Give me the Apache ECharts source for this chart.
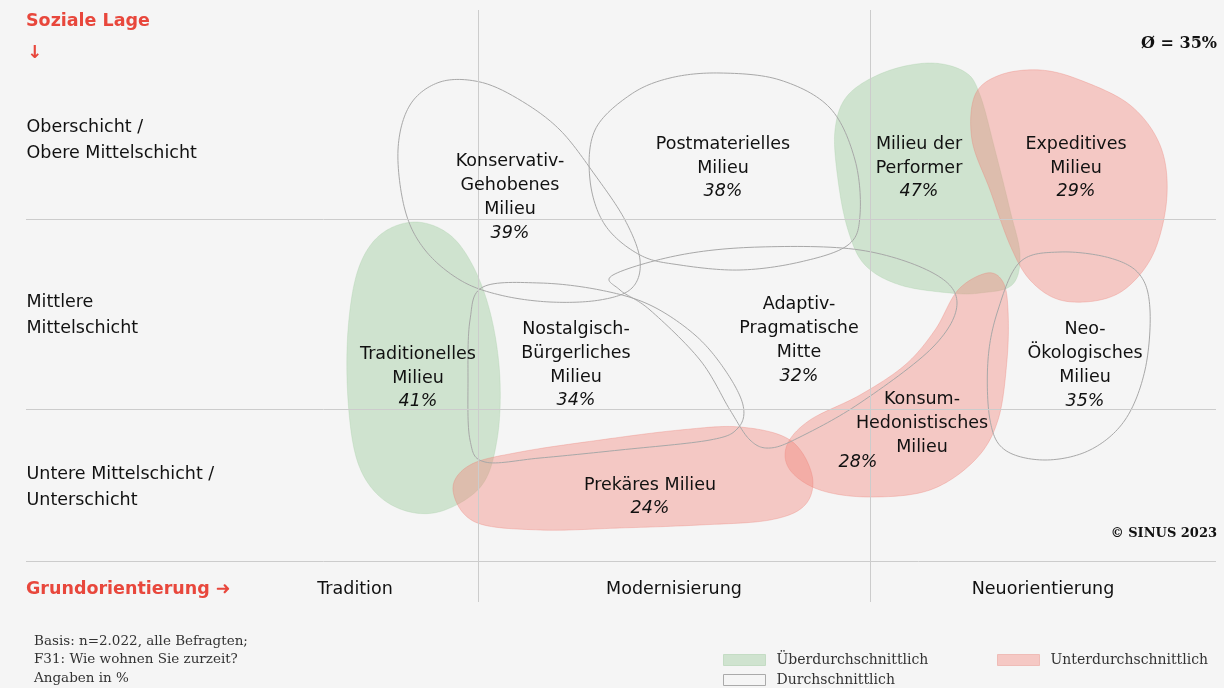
<!DOCTYPE html>
<html>
<head>
<meta charset="utf-8">
<script src="https://cdn.jsdelivr.net/npm/echarts@6/dist/echarts.min.js"></script>
<style>
  html, body { margin: 0; padding: 0; background: #f5f5f5; }
  #chart { width: 1224px; height: 688px; }
</style>
</head>
<body>
<div id="chart"></div>
<script>
// Sinus-Milieus 2023 – F31: Wie wohnen Sie zurzeit?  (Anteil je Milieu in %)
const milieus = [
  'Konservativ-\nGehobenes\nMilieu', 'Postmaterielles\nMilieu', 'Milieu der\nPerformer',
  'Expeditives\nMilieu', 'Traditionelles\nMilieu', 'Nostalgisch-\nBürgerliches\nMilieu',
  'Adaptiv-\nPragmatische\nMitte', 'Neo-\nÖkologisches\nMilieu', 'Konsum-\nHedonistisches\nMilieu',
  'Prekäres Milieu'
];
const shares = [39, 38, 47, 29, 41, 34, 32, 35, 28, 24];
const average = 35;
const levels = ['Überdurchschnittlich', 'Durchschnittlich', 'Unterdurchschnittlich'];
const levelOf = [1, 1, 0, 2, 0, 1, 1, 1, 2, 2];

const rows = ['Oberschicht /\nObere Mittelschicht', 'Mittlere\nMittelschicht', 'Untere Mittelschicht /\nUnterschicht'];
const columns = ['Tradition', 'Modernisierung', 'Neuorientierung'];
const notes = ['Basis: n=2.022, alle Befragten;', 'F31: Wie wohnen Sie zurzeit?', 'Angaben in %'];

// map geometry in axis units (x: Grundorientierung, y: soziale Lage)
const rowAt = [46.2, 28.7, 11.5];
const colAt = [32.9, 64.8, 101.7];
const vDividers = [45.2, 84.4];
const hDividers = [38.3, 19.3, 4.1];

const labelAt = [
  [48.4, 40.5], [69.7, 43.45], [89.3, 43.45], [105.0, 43.45], [39.2, 22.45],
  [55.0, 23.75], [77.3, 26.2], [105.9, 23.7], [89.6, 17.85], [62.4, 10.55]
];
const pctAt = [null, null, null, null, null, null, null, null, [83.2, 14.0], null];

const outlines = [
  [[37.2,45.2],[38.4,49.7],[41.4,52.0],[45.4,52.0],[49.4,50.2],[53.4,47.2],[56.9,42.7],[59.9,38.2],[61.4,34.2],[60.6,31.4],[57.4,30.2],[52.4,30.0],[47.4,30.7],[43.4,32.2],[39.9,35.2],[37.9,39.2]],
  [[69.4,52.9],[75.4,52.2],[80.4,49.4],[82.9,44.2],[83.4,38.7],[82.2,35.7],[77.4,34.0],[71.4,33.2],[65.4,33.7],[61.4,34.7],[57.9,37.7],[56.4,42.2],[56.9,47.2],[60.4,50.7],[64.4,52.4]],
  [[90.4,53.9],[93.9,53.0],[95.4,50.7],[96.9,45.2],[98.4,39.2],[99.4,34.7],[98.6,31.7],[95.4,30.9],[92.4,30.9],[87.4,31.7],[83.9,33.7],[82.2,37.2],[81.2,42.2],[80.9,47.2],[82.2,50.7],[85.9,53.0]],
  [[94.9,50.7],[97.4,52.7],[101.4,53.2],[105.4,52.2],[110.4,49.7],[113.4,45.7],[114.1,40.7],[112.9,35.2],[110.4,31.7],[107.4,30.2],[103.4,30.2],[100.4,32.2],[98.4,35.7],[96.4,41.2],[94.6,46.2]],
  [[38.9,38.0],[42.4,36.7],[44.9,33.2],[46.6,28.2],[47.4,22.2],[47.1,16.2],[45.6,11.7],[41.9,9.2],[38.4,9.0],[35.2,10.7],[33.1,14.2],[32.2,20.2],[32.2,27.2],[33.2,33.2],[35.4,36.7]],
  [[45.7,31.5],[51.4,31.9],[57.4,31.2],[62.4,29.7],[66.9,26.7],[69.9,23.2],[71.7,19.7],[71.2,17.4],[68.4,16.2],[59.4,15.2],[51.4,14.4],[45.9,14.0],[44.4,16.2],[44.2,22.2],[44.4,28.2]],
  [[58.7,32.7],[65.4,34.7],[73.4,35.5],[83.4,35.2],[90.7,32.9],[93.1,29.9],[90.7,25.5],[83.4,19.9],[77.4,16.5],[74.4,15.4],[72.4,16.2],[70.4,19.2],[67.4,24.2],[62.4,29.2],[59.4,31.2]],
  [[99.4,34.0],[103.4,35.0],[108.4,34.4],[111.4,32.7],[112.4,29.2],[111.9,23.2],[109.9,18.2],[106.4,15.2],[101.9,14.2],[97.9,15.2],[96.4,18.2],[96.2,24.2],[97.2,29.2]],
  [[96.1,32.9],[97.7,32.0],[98.2,29.2],[98.1,24.2],[97.2,18.2],[94.9,14.2],[90.4,11.2],[84.4,10.5],[79.4,11.2],[76.4,13.2],[76.1,15.7],[78.4,18.2],[83.4,20.7],[87.9,23.7],[90.9,27.2],[93.2,31.2]],
  [[42.7,11.2],[44.4,13.7],[49.4,15.0],[57.4,16.2],[65.4,17.2],[71.4,17.5],[76.4,16.2],[78.6,12.7],[77.9,9.7],[74.4,8.2],[67.4,7.7],[59.4,7.4],[51.4,7.2],[44.9,8.0]]
];

const SANS = '"DejaVu Sans", sans-serif';
const SERIF = '"DejaVu Serif", serif';
const RED = '#e8473c';
const INK = '#111111';

const levelStyle = [
  { fill: 'rgba(150,200,150,0.4)', stroke: 'rgba(150,200,150,0.25)', lineWidth: 1 },
  { fill: 'rgba(0,0,0,0)', stroke: '#a8a8a8', lineWidth: 1 },
  { fill: 'rgba(243,133,123,0.4)', stroke: 'rgba(235,120,110,0.3)', lineWidth: 1 }
];
const legendIcon = [
  { color: '#cfe3cf', borderColor: '#c4dcc4', borderWidth: 1 },
  { color: '#f5f5f5', borderColor: '#aaaaaa', borderWidth: 1 },
  { color: '#f5c8c4', borderColor: '#efbcb7', borderWidth: 1 }
];
const legendPos = [[723, 653], [723, 673], [997, 653]];

// closed Catmull-Rom curve through the outline points
function blob(params, api) {
  const idx = api.value(2);
  const pts = outlines[idx].map(p => api.coord(p));
  const n = pts.length;
  const out = [];
  for (let i = 0; i < n; i++) {
    const p0 = pts[(i - 1 + n) % n], p1 = pts[i], p2 = pts[(i + 1) % n], p3 = pts[(i + 2) % n];
    for (let k = 0; k < 16; k++) {
      const t = k / 16, t2 = t * t, t3 = t2 * t;
      const c = d => 0.5 * (2 * p1[d] + (-p0[d] + p2[d]) * t + (2 * p0[d] - 5 * p1[d] + 4 * p2[d] - p3[d]) * t2 + (-p0[d] + 3 * p1[d] - 3 * p2[d] + p3[d]) * t3);
      out.push([c(0), c(1)]);
    }
  }
  return { type: 'polygon', shape: { points: out }, style: levelStyle[levelOf[idx]] };
}

function shapeSeries(level, z) {
  return {
    name: levels[level],
    type: 'custom',
    renderItem: blob,
    z: z,
    silent: true,
    itemStyle: { color: levelStyle[level].fill, borderColor: levelStyle[level].stroke },
    data: milieus.map((m, i) => [labelAt[i][0], labelAt[i][1], i]).filter(d => levelOf[d[2]] === level)
  };
}

function textSeries(data, label) {
  return {
    type: 'scatter', z: 10, silent: true, symbolSize: 1,
    itemStyle: { color: 'rgba(0,0,0,0)', opacity: 1 },
    label: Object.assign({ show: true, color: INK, opacity: 1 }, label),
    emphasis: { disabled: true },
    data: data
  };
}

const milieuLabels = milieus.map((m, i) => {
  const name = m.split('\n').map(l => '{n|' + l + '}').join('\n');
  return {
    value: labelAt[i],
    label: { formatter: pctAt[i] ? name : name + '\n{p|' + shares[i] + '%}' }
  };
});
pctAt.forEach((p, i) => {
  if (p) milieuLabels.push({ value: p, label: { formatter: '{p|' + shares[i] + '%}' } });
});

const dividerLines = [
  ...vDividers.map(x => [{ coord: [x, 0] }, { coord: [x, 59.2] }]),
  ...hDividers.map(y => [{ coord: [0, y] }, { coord: [119, y] }])
];

const chart = echarts.init(document.getElementById('chart'), null, { renderer: 'canvas' });
chart.setOption({
  backgroundColor: '#f5f5f5',
  animation: false,
  grid: { left: 26, right: 8, top: 10, bottom: 86 },
  xAxis: { type: 'value', min: 0, max: 119, show: false },
  yAxis: { type: 'value', min: 0, max: 59.2, show: false },
  legend: levels.map((name, i) => ({
    left: legendPos[i][0], top: legendPos[i][1], padding: 0, itemWidth: 42, itemHeight: 11,
    textStyle: { fontFamily: SERIF, fontSize: 14, color: '#333', padding: [0, 0, 0, 6] },
    selectedMode: false,
    data: [{ name: name, icon: 'rect', itemStyle: legendIcon[i] }]
  })),
  series: [
    {
      type: 'scatter', symbolSize: 0, data: [], z: 1, silent: true,
      markLine: {
        silent: true, symbol: 'none', animation: false,
        label: { show: false },
        lineStyle: { color: '#cccccc', width: 1, type: 'solid' },
        data: dividerLines
      }
    },
    shapeSeries(0, 2),
    shapeSeries(2, 3),
    shapeSeries(1, 4),
    textSeries(milieuLabels, {
      position: 'inside',
      rich: {
        n: { fontFamily: SANS, fontSize: 17.5, lineHeight: 24, color: INK },
        p: { fontFamily: SANS, fontSize: 17.5, fontStyle: 'italic', lineHeight: 23, color: INK }
      }
    }),
    textSeries(rows.map((r, i) => ({ name: r, value: [0, rowAt[i]] })), {
      position: 'right', distance: 0, formatter: p => p.name,
      fontFamily: SANS, fontSize: 17.5, lineHeight: 26
    }),
    textSeries(columns.map((c, i) => ({ name: c, value: [colAt[i], 1.3] })), {
      position: 'inside', formatter: p => p.name,
      fontFamily: SANS, fontSize: 17.5
    })
  ],
  graphic: [
    { type: 'text', left: 26, top: 12, style: { text: 'Soziale Lage', font: 'bold 17.5px ' + SANS, fill: RED } },
    { type: 'text', left: 27, top: 44, style: { text: '↓', font: 'bold 18px ' + SANS, fill: RED } },
    { type: 'text', left: 26, top: 580, style: { text: 'Grundorientierung ➜', font: 'bold 17.5px ' + SANS, fill: RED } },
    { type: 'text', right: 7, top: 36, style: { text: 'Ø = ' + average + '%', font: 'bold 16px ' + SERIF, fill: INK } },
    { type: 'text', right: 7, top: 527, style: { text: '© SINUS 2023', font: 'bold 13px ' + SERIF, fill: INK } },
    ...notes.map((t, i) => ({
      type: 'text', left: 34, top: 634 + i * 18.5,
      style: { text: t, font: '13.5px ' + SERIF, fill: '#333' }
    }))
  ]
});
</script>
</body>
</html>
